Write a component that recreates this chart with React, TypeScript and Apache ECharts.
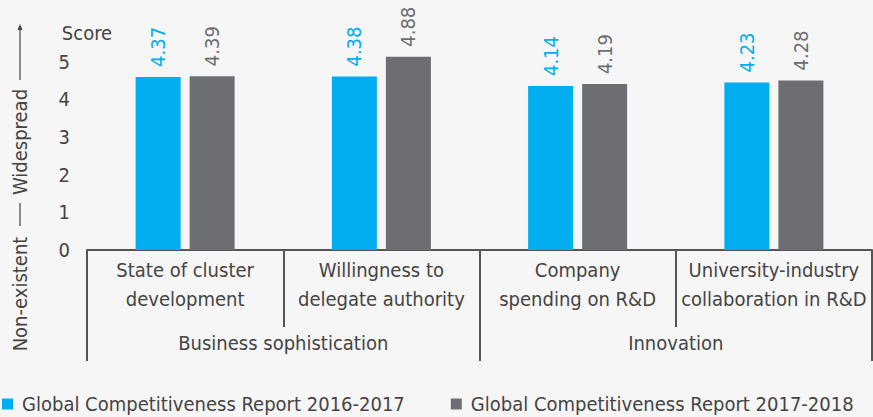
import React, { useEffect, useRef } from "react";
import * as echarts from "echarts";

const categories = [
  "State of cluster\ndevelopment",
  "Willingness to\ndelegate authority",
  "Company\nspending on R&D",
  "University-industry\ncollaboration in R&D",
];
const groups = ["Business sophistication", "Innovation"];
const series2016 = [4.37, 4.38, 4.14, 4.23];
const series2017 = [4.39, 4.88, 4.19, 4.28];
const seriesNames = [
  "Global Competitiveness Report 2016-2017",
  "Global Competitiveness Report 2017-2018",
];
const yTicks = [0, 1, 2, 3, 4, 5];

const FONT = '"Liberation Sans Narrow", "DejaVu Sans Condensed", "Roboto", sans-serif';
const TXT = "#444444";
const LINE = "#555555";
const BLUE = "#00AEEF";
const GRAY = "#6D6E71";

export default function App() {
  const ref = useRef<HTMLDivElement>(null);
  useEffect(() => {
    document.body.style.margin = "0";
    if (!ref.current) return;
    const chart = echarts.init(ref.current, null, { renderer: "svg" });
    const gridTop = 48;
    const gridBottomY = 250;
    const h = gridBottomY - gridTop;
    const labelMax = h / 37.7;
    const barMax = h / 39.6;
    chart.setOption({
      animation: false,
      backgroundColor: "#f6f6f6",
      textStyle: { fontFamily: FONT },
      grid: { left: 87, right: 1, top: gridTop, bottom: 417 - gridBottomY },
      legend: {
        left: 2,
        top: 394,
        padding: 0,
        width: 871,
        itemWidth: 11,
        itemHeight: 11,
        itemGap: 46,
        icon: "rect",
        textStyle: { fontFamily: FONT, fontSize: 20, color: TXT, padding: [0, 0, 0, 4] },
        data: seriesNames,
      },
      xAxis: [
        {
          type: "category",
          data: categories,
          position: "bottom",
          axisLine: { show: true, lineStyle: { color: LINE, width: 2 } },
          axisTick: { show: true, length: 77, lineStyle: { color: LINE, width: 2 } },
          axisLabel: {
            interval: 0,
            margin: 5,
            fontFamily: FONT,
            fontSize: 20,
            lineHeight: 29,
            color: TXT,
            align: "center",
          },
        },
        {
          type: "category",
          data: groups,
          position: "bottom",
          axisLine: { show: false },
          axisTick: { show: true, length: 111, lineStyle: { color: LINE, width: 2 } },
          axisLabel: {
            interval: 0,
            margin: 81,
            fontFamily: FONT,
            fontSize: 20,
            lineHeight: 24,
            color: TXT,
          },
        },
      ],
      yAxis: [
        {
          type: "value",
          min: 0,
          max: labelMax,
          interval: 1,
          position: "left",
          name: "Score",
          nameLocation: "end",
          nameGap: 15,
          nameTextStyle: { fontFamily: FONT, fontSize: 20, color: TXT, verticalAlign: "middle" },
          axisLine: { show: false },
          axisTick: { show: false },
          splitLine: { show: false },
          axisLabel: {
            margin: 17,
            fontFamily: FONT,
            fontSize: 20,
            color: TXT,
            showMaxLabel: false,
            formatter: (v: number) => (yTicks.includes(Math.round(v * 1000) / 1000) ? String(v) : ""),
          },
        },
        {
          type: "value",
          min: 0,
          max: barMax,
          show: false,
          splitLine: { show: false },
        },
      ],
      series: [
        {
          name: seriesNames[0],
          type: "bar",
          yAxisIndex: 1,
          data: series2016,
          barWidth: 45,
          barGap: "20%",
          itemStyle: { color: BLUE },
          label: {
            show: true,
            position: "top",
            rotate: 90,
            distance: 10,
            align: "left",
            verticalAlign: "middle",
            fontFamily: FONT,
            fontSize: 20,
            color: BLUE,
            formatter: (p: any) => p.value.toFixed(2),
          },
        },
        {
          name: seriesNames[1],
          type: "bar",
          yAxisIndex: 1,
          data: series2017,
          barWidth: 45,
          barGap: "20%",
          itemStyle: { color: GRAY },
          label: {
            show: true,
            position: "top",
            rotate: 90,
            distance: 10,
            align: "left",
            verticalAlign: "middle",
            fontFamily: FONT,
            fontSize: 20,
            color: GRAY,
            formatter: (p: any) => p.value.toFixed(2),
          },
        },
      ],
      graphic: [
        {
          type: "text",
          x: 20,
          y: 294,
          rotation: Math.PI / 2,
          style: {
            text: "Non-existent",
            fontFamily: FONT,
            fontSize: 20,
            fill: TXT,
            align: "center",
            verticalAlign: "middle",
          },
        },
        {
          type: "text",
          x: 20,
          y: 142,
          rotation: Math.PI / 2,
          style: {
            text: "Widespread",
            fontFamily: FONT,
            fontSize: 20,
            fill: TXT,
            align: "center",
            verticalAlign: "middle",
          },
        },
        {
          type: "line",
          shape: { x1: 20, y1: 203, x2: 20, y2: 226 },
          style: { stroke: TXT, lineWidth: 1.2 },
        },
        {
          type: "line",
          shape: { x1: 20, y1: 80, x2: 20, y2: 28 },
          style: { stroke: TXT, lineWidth: 1.2 },
        },
        {
          type: "polygon",
          shape: { points: [[20, 24], [17.5, 30], [22.5, 30]] },
          style: { fill: TXT },
        },
      ],
    });
    return () => chart.dispose();
  }, []);
  return <div ref={ref} style={{ width: 873, height: 417 }} />;
}
